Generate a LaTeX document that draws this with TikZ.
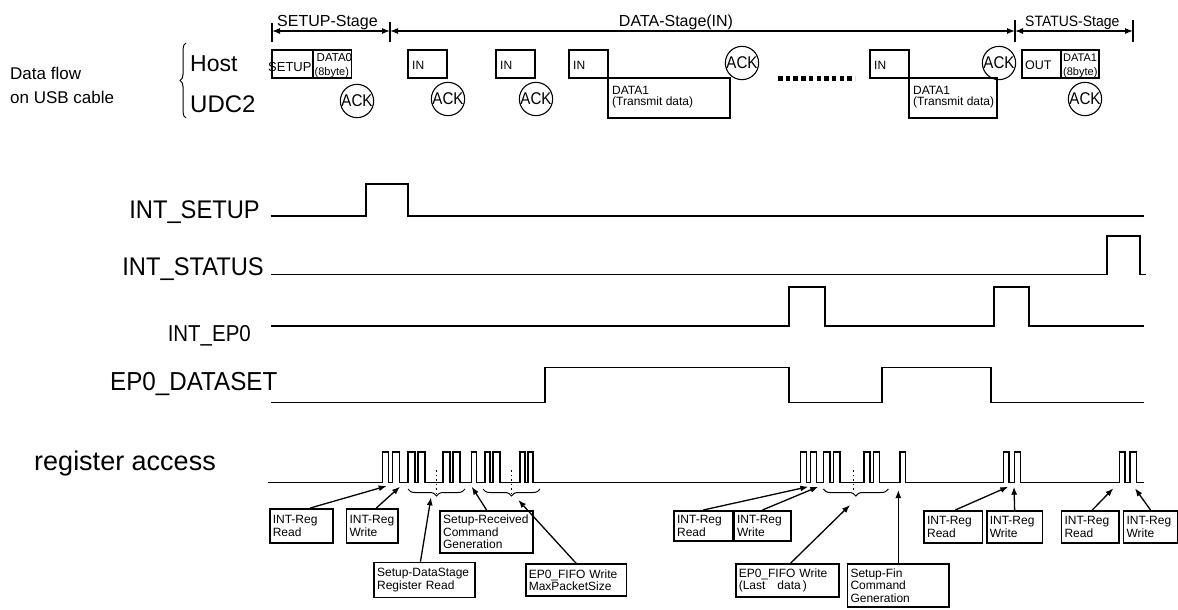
\documentclass[tikz,border=0pt]{standalone}
\usepackage{fontspec}
\setmainfont{Liberation Sans}
\newfontfamily\narrowfont[FakeStretch=0.93]{Liberation Sans}
\newfontfamily\narrowerfont[FakeStretch=0.89]{Liberation Sans}
\usepackage{tikz}
\usetikzlibrary{arrows.meta, calc, decorations.pathreplacing}
\newcommand{\fsz}[1]{\fontsize{#1}{#1}\selectfont}

\begin{document}
\begin{tikzpicture}[x=1pt, y=-1pt,
        lbl/.style={inner sep=0pt},
        wave/.style={line width=1.3pt},
        pkt/.style={draw, line width=1.1pt},
        ackc/.style={draw, circle, line width=1.1pt, minimum size=30pt, inner sep=0pt, font=\narrowerfont\fsz{17}},
        note/.style={draw, line width=1.6pt, anchor=north west, align=left, inner xsep=3pt, inner ysep=2pt, font=\fontsize{12}{12.5}\selectfont},
        ptr/.style={-{Latex[length=8pt, width=6pt]}, line width=1.3pt},
        span/.style={{Latex[length=8pt, width=6pt]}-{Latex[length=8pt, width=6pt]}, line width=1.1pt},
        grp/.style={decorate, decoration={brace, amplitude=7pt}, line width=1pt}]
            \useasboundingbox (0,0) rectangle (1178,610);
            \node[lbl, font=\fsz{17}, anchor=base west] (flowa) at (10,80) {Data flow};
            \node[lbl, font=\fsz{17}, anchor=base west] (flowb) at (10,103) {on USB cable};
            \draw[line width=1pt, decorate, decoration={brace, amplitude=6pt}] (186,118) -- (186,43);
            \node[lbl, font=\fsz{23}, anchor=base west] (host) at (190,72) {Host};
            \node[lbl, font=\fsz{24}, anchor=base west] (udc) at (190,112) {UDC2};
            \coordinate (st0) at (272,31);
            \coordinate (st1) at (390,31);
            \coordinate (st2) at (1015,31);
            \coordinate (st3) at (1133,31);
            \draw[span] (st0) -- (st1);
            \draw[span] (st1) -- (st2);
            \draw[span] (st2) -- (st3);
            \draw[line width=1.1pt] (272,23) -- (272,42) (390,22) -- (390,42) (1015,20) -- (1015,42) (1133,20) -- (1133,42);
            \node[lbl, font=\fsz{16}, anchor=base west] (setupst) at (277,27) {SETUP-Stage};
            \node[lbl, font=\fsz{16}, anchor=base] (datast) at (676,27) {DATA-Stage(IN)};
            \node[lbl, font=\narrowfont\fsz{15}, anchor=base west] (statusst) at (1025,27) {STATUS-Stage};
            \draw[pkt] (272,50) rectangle (313,78);
            \node[lbl, font=\fsz{13}, anchor=base west] (setuptx) at (268,71) {SETUP};
            \draw[pkt] (313,50) rectangle (351.5,78);
            \begin{scope}
                \clip (313,50) rectangle (351.5,78);
                \node[lbl, font=\fsz{11.5}, anchor=base west] (dzerotx) at (316.5,62) {DATA0};
            \end{scope}
            \node[lbl, font=\fsz{11}, anchor=base west] (dzerosz) at (314.5,75) {(8byte)};
            \node[ackc] (acka) at (357,101) {ACK};
            \draw[pkt] (408,50) rectangle (447,78);
            \node[lbl, font=\fsz{12}, anchor=base west] (ina) at (412,70) {IN};
            \node[ackc] (ackb) at (448,99) {ACK};
            \draw[pkt] (496,50) rectangle (535,78);
            \node[lbl, font=\fsz{12}, anchor=base west] (inb) at (500,70) {IN};
            \node[ackc] (ackc) at (536,99) {ACK};
            \draw[pkt] (569,50) rectangle (608,78);
            \node[lbl, font=\fsz{12}, anchor=base west] (inc) at (573,70) {IN};
            \draw[pkt] (608,78) rectangle (730,118);
            \node[lbl, font=\fsz{12}, anchor=base west] (dataa) at (612,94) {DATA1};
            \node[lbl, font=\fsz{12}, anchor=base west] (txa) at (612,105) {(Transmit data)};
            \node[ackc] (ackd) at (742,63) {ACK};
            \draw[line width=4.5pt, dash pattern=on 4.5pt off 3.2pt] (778,78.5) -- (855,78.5);
            \draw[pkt] (870,50) rectangle (909,78);
            \node[lbl, font=\fsz{12}, anchor=base west] (ind) at (874,70) {IN};
            \draw[pkt] (909,78) rectangle (997,118);
            \node[lbl, font=\fsz{12}, anchor=base west] (datab) at (913,94) {DATA1};
            \node[lbl, font=\fsz{12}, anchor=base west] (txb) at (913,105) {(Transmit data)};
            \node[ackc] (acke) at (999,63) {ACK};
            \draw[pkt] (1022,50) rectangle (1061,78);
            \node[lbl, font=\fsz{12.5}, anchor=base west] (outtx) at (1025,70) {OUT};
            \draw[pkt] (1061,50) rectangle (1099,78);
            \begin{scope}
                \clip (1061,50) rectangle (1099,78);
                \node[lbl, font=\fsz{11}, anchor=base west] (dstattx) at (1063,62) {DATA1};
            \end{scope}
            \node[lbl, font=\fsz{11}, anchor=base west] (dstatsz) at (1063,75) {(8byte)};
            \node[ackc] (ackf) at (1085,99) {ACK};
            \node[lbl, font=\narrowfont\fsz{25.5}, anchor=base east] (isetup) at (260,218) {INT\_SETUP};
            \node[lbl, font=\narrowfont\fsz{25.5}, anchor=base east] (istatus) at (264,275) {INT\_STATUS};
            \node[lbl, font=\narrowerfont\fsz{23}, anchor=base east] (iepzero) at (251,341.5) {INT\_EP0};
            \node[lbl, font=\narrowfont\fsz{26}, anchor=base east] (dataset) at (277.5,390) {EP0\_DATASET};
            \node[lbl, font=\fsz{27}, anchor=base east] (regacc) at (216,470) {register access};
            \draw[wave] (270.6,216) -- (366,216) -- (366,184) -- (408,184) -- (408,216) -- (1144,216);
            \draw[wave] (270.6,274.5) -- (1107,274.5) -- (1107,236) -- (1140,236) -- (1140,274.5) -- (1145.6,274.5);
            \draw[wave] (270.6,326) -- (789,326) -- (789,287) -- (825,287) -- (825,326) -- (994,326) -- (994,287) -- (1029,287) -- (1029,326) -- (1144,326);
            \draw[wave] (270.6,402.5) -- (545,402.5) -- (545,367.3) -- (789,367.3) -- (789,402.5) -- (882,402.5) -- (882,367.3) -- (991,367.3) -- (991,402.5) -- (1144,402.5);
            \draw[wave] (268,482.5) foreach \a/\b in {382.7/388.3, 392.7/399.3, 408/415, 418/425, 443/450, 453/460, 471.7/476.7, 485/490, 493/500, 520/525, 528/533, 800.7/806.7, 810.7/816.7, 823.3/830, 833.3/840, 864/870, 873.3/879.3, 900/905.3, 1003.3/1009, 1014.3/1020.7, 1119.3/1125, 1130/1136.7} { -- (\a,482.5) |- (\b,452) -- (\b,482.5) } -- (1144,482.5);
            \draw[line width=1pt, dash pattern=on 1.5pt off 3pt] (436,470) -- (436,496) (511.7,470) -- (511.7,496) (853.3,470) -- (853.3,496);
            \draw[grp] (465,489) -- (408,489);
            \draw[grp] (540,489) -- (483,489);
            \draw[grp] (888.3,489) -- (823.3,489);
            \node[note, text width=57pt, minimum height=34pt] (rda) at (269,508) {INT-Reg\\Read};
            \node[note, text width=45.6pt, minimum height=34pt] (wra) at (345.7,508) {INT-Reg\\Write};
            \node[note, text width=87pt, minimum height=42pt] (setrec) at (439.3,510) {Setup-Received\\Command\\Generation};
            \node[note, text width=94.7pt, minimum height=35pt] (dstage) at (373.3,561.7) {Setup-DataStage\\Register Read};
            \node[note, text width=94.7pt, minimum height=32pt] (fifoa) at (525,563.3) {EP0\_FIFO Write\\MaxPacketSize};
            \node[note, text width=52.4pt, minimum height=30pt] (rdb) at (673.3,510) {INT-Reg\\Read};
            \node[note, text width=50.7pt, minimum height=30pt] (wrb) at (733.3,510) {INT-Reg\\Write};
            \node[note, text width=97.3pt, minimum height=33pt] (fifob) at (735,563.3) {EP0\_FIFO Write\\(Last~~~data\,)};
            \node[note, text width=95.6pt, minimum height=43pt] (setfin) at (846.7,563.3) {Setup-Fin\\Command\\Generation};
            \node[note, text width=52.4pt, minimum height=32pt] (rdc) at (923.3,510) {INT-Reg\\Read};
            \node[note, text width=49.7pt, minimum height=32pt] (wrc) at (986,510) {INT-Reg\\Write};
            \node[note, text width=51.6pt, minimum height=32pt] (rdd) at (1060.7,510) {INT-Reg\\Read};
            \node[note, text width=48pt, minimum height=32pt] (wrd) at (1122.7,510) {INT-Reg\\Write};
            \coordinate (pa) at (386.7,486);
            \coordinate (pb) at (400,486.7);
            \coordinate (pc) at (471.7,486.7);
            \coordinate (pd) at (431,497.3);
            \coordinate (pe) at (518.3,500);
            \coordinate (pf) at (808.3,486.7);
            \coordinate (pg) at (818.3,486.7);
            \coordinate (ph) at (850,505);
            \coordinate (pi) at (898.3,490);
            \coordinate (pj) at (1008.3,486.7);
            \coordinate (pk) at (1014,486.7);
            \coordinate (pl) at (1113.3,488.3);
            \coordinate (pm) at (1135,488.3);
            \draw[ptr] ($(rda.north)+(9,0)$) -- (pa);
            \draw[ptr] ($(wra.north)+(4,0)$) -- (pb);
            \draw[ptr] (setrec.north) -- (pc);
            \draw[ptr] ($(dstage.north)+(-4,0)$) -- (pd);
            \draw[ptr] (fifoa.north) -- (pe);
            \draw[ptr] (rdb.north) -- (pf);
            \draw[ptr] (wrb.north) -- (pg);
            \draw[ptr] ($(fifob.north)+(3,0)$) -- (ph);
            \draw[ptr] (setfin.north) -- (pi);
            \draw[ptr] ($(rdc.north)+(2,0)$) -- (pj);
            \draw[ptr] (wrc.north) -- (pk);
            \draw[ptr] ($(rdd.north)+(2,0)$) -- (pl);
            \draw[ptr] (wrd.north) -- (pm);
        \end{tikzpicture}
\end{document}
